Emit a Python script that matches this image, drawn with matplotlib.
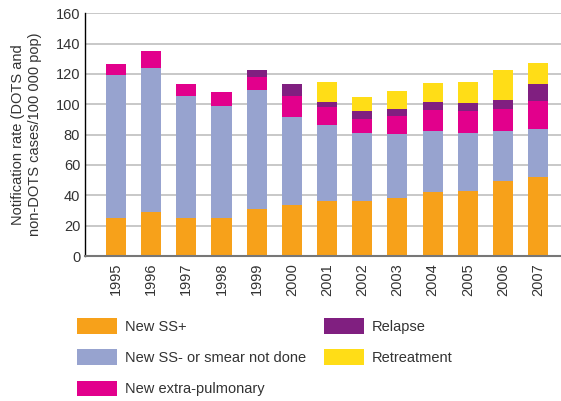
import numpy as np
import matplotlib
matplotlib.use("Agg")
from matplotlib import pyplot as plt

plt.rcParams['font.family'] = ['Liberation Sans', 'DejaVu Sans']

years = ['1995', '1996', '1997', '1998', '1999', '2000', '2001',
         '2002', '2003', '2004', '2005', '2006', '2007']
new_ssp = [25.3, 29.2, 25.3, 25.3, 31.0, 33.6, 36.3, 36.3, 38.2, 42.2, 42.9, 49.5, 52.1]
new_ssn = [94.0, 94.8, 80.2, 73.6, 78.5, 58.0, 50.1, 44.8, 42.2, 40.2, 38.2, 32.9, 31.6]
new_ep = [7.3, 11.2, 7.9, 9.2, 8.5, 13.9, 11.8, 9.2, 11.9, 13.9, 14.5, 14.5, 18.5]
relapse = [0, 0, 0, 0, 4.6, 7.9, 3.3, 5.3, 4.6, 5.2, 5.3, 6.0, 11.2]
retreat = [0, 0, 0, 0, 0, 0, 13.2, 9.2, 11.9, 12.6, 13.8, 19.7, 13.9]

series = [
    ("New SS+", new_ssp, "#F7A11A"),
    ("New SS- or smear not done", new_ssn, "#97A3CF"),
    ("New extra-pulmonary", new_ep, "#E2008C"),
    ("Relapse", relapse, "#801F80"),
    ("Retreatment", retreat, "#FFDD17"),
]

fig = plt.figure(figsize=(5.61, 4.01), dpi=100)
ax = fig.add_axes([85/561, 1-256/401, 1-85/561, (256-13.3)/401])

x = np.arange(len(years))
bottom = np.zeros(len(years))
handles = []
for name, vals, col in series:
    vals = np.array(vals, dtype=float)
    b = ax.bar(x, vals, 0.57, bottom=bottom, color=col, label=name, zorder=2)
    handles.append(b)
    bottom += vals

ax.set_ylim(0, 160)
ax.set_xlim(-0.88, 12.65)
ax.set_yticks(range(0, 161, 20))
ax.yaxis.grid(True, color="#c8c8c8", linewidth=1.4, zorder=0)
ax.set_axisbelow(True)
ax.set_xticks(x)
ax.set_xticklabels(years, rotation=90, fontsize=10.5, color="#333333")
ax.tick_params(axis='y', labelsize=10.5, colors="#333333", length=0, pad=3.5)
ax.tick_params(axis='x', length=0, pad=5)
for s in ['top', 'right']:
    ax.spines[s].set_visible(False)
ax.spines['left'].set_color('black')
ax.spines['left'].set_linewidth(1.0)
ax.spines['bottom'].set_color('#777777')
ax.spines['bottom'].set_linewidth(1.5)
ax.set_ylabel("Notification rate (DOTS and\nnon-DOTS cases/100 000 pop)",
              fontsize=10.5, color="#333333", labelpad=10, linespacing=1.2)

fig.legend(handles=handles, loc='upper left', bbox_to_anchor=(64/561, 1-305/401),
           ncol=2, frameon=False, fontsize=10.5, handlelength=2.75, handleheight=1.25,
           labelspacing=1.08, columnspacing=1.25, handletextpad=0.5,
           labelcolor="#333333")

fig.savefig("out.png", dpi=100)
